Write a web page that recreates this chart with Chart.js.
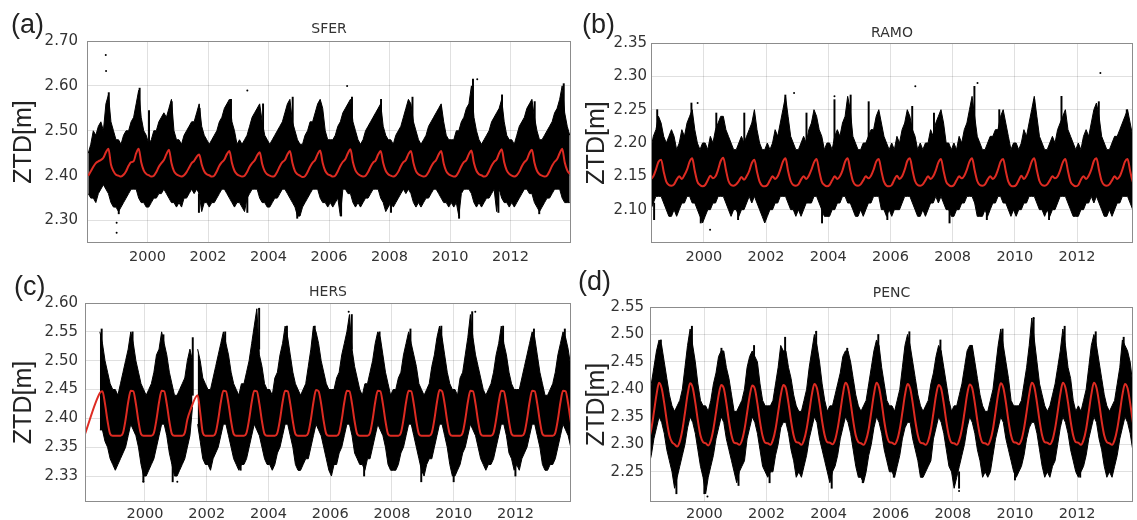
<!DOCTYPE html>
<html>
<head>
<style>
  body { margin: 0; background: #fff; width: 1137px; height: 520px; overflow: hidden; position: relative; }
  .panel { position: absolute; }
</style>
<script src="https://cdn.jsdelivr.net/npm/chart.js"></script>
<title>ZTD time series</title>
</head>
<body>
<div class="panel" style="left:0;top:0;width:575px;height:262px"><canvas id="chartA"></canvas></div>
<div class="panel" style="left:578px;top:0;width:559px;height:262px"><canvas id="chartB"></canvas></div>
<div class="panel" style="left:0;top:262px;width:575px;height:258px"><canvas id="chartC"></canvas></div>
<div class="panel" style="left:578px;top:262px;width:559px;height:258px"><canvas id="chartD"></canvas></div>
<script>
// one row per year, one value per month (Jan..Dec)
const years = [1998, 1999, 2000, 2001, 2002, 2003, 2004, 2005, 2006, 2007, 2008, 2009, 2010, 2011, 2012, 2013];
const xTicks = [2000, 2002, 2004, 2006, 2008, 2010, 2012];

// ---- (a) SFER ----
const sferTicks = [2.30, 2.40, 2.50, 2.60, 2.70];
const sferTickLabels = ['2.30', '2.40', '2.50', '2.60', '2.70'];
const sferFit = [
  [2.400, 2.410, 2.420, 2.428, 2.432, 2.435, 2.440, 2.452, 2.460, 2.425, 2.410, 2.402],
  [2.400, 2.398, 2.402, 2.410, 2.422, 2.430, 2.432, 2.450, 2.460, 2.430, 2.412, 2.404],
  [2.401, 2.398, 2.400, 2.408, 2.420, 2.428, 2.435, 2.448, 2.458, 2.428, 2.410, 2.403],
  [2.400, 2.398, 2.401, 2.408, 2.418, 2.428, 2.433, 2.442, 2.447, 2.425, 2.410, 2.403],
  [2.401, 2.398, 2.400, 2.410, 2.422, 2.430, 2.436, 2.448, 2.455, 2.428, 2.411, 2.403],
  [2.400, 2.398, 2.400, 2.408, 2.420, 2.428, 2.434, 2.445, 2.452, 2.426, 2.410, 2.403],
  [2.400, 2.398, 2.400, 2.409, 2.421, 2.430, 2.435, 2.447, 2.455, 2.428, 2.410, 2.403],
  [2.400, 2.397, 2.399, 2.408, 2.420, 2.429, 2.435, 2.448, 2.456, 2.428, 2.411, 2.403],
  [2.401, 2.398, 2.400, 2.410, 2.422, 2.431, 2.437, 2.450, 2.459, 2.430, 2.412, 2.404],
  [2.400, 2.398, 2.400, 2.408, 2.420, 2.429, 2.434, 2.447, 2.455, 2.428, 2.411, 2.403],
  [2.400, 2.398, 2.401, 2.409, 2.421, 2.430, 2.435, 2.448, 2.455, 2.428, 2.410, 2.403],
  [2.400, 2.398, 2.400, 2.408, 2.420, 2.429, 2.435, 2.447, 2.455, 2.427, 2.410, 2.403],
  [2.400, 2.398, 2.400, 2.409, 2.421, 2.430, 2.435, 2.448, 2.456, 2.428, 2.411, 2.403],
  [2.401, 2.398, 2.400, 2.410, 2.422, 2.431, 2.436, 2.450, 2.459, 2.430, 2.412, 2.404],
  [2.400, 2.398, 2.401, 2.409, 2.421, 2.430, 2.436, 2.450, 2.458, 2.429, 2.411, 2.403],
  [2.400, 2.398, 2.400, 2.410, 2.422, 2.431, 2.437, 2.450, 2.460, 2.430, 2.412, 2.404]
];
const sferHigh = [
  [2.45, 2.47, 2.50, 2.49, 2.51, 2.52, 2.50, 2.56, 2.58, 2.52, 2.50, 2.48],
  [2.48, 2.47, 2.49, 2.50, 2.50, 2.52, 2.53, 2.56, 2.59, 2.53, 2.50, 2.49],
  [2.47, 2.48, 2.50, 2.50, 2.52, 2.53, 2.54, 2.53, 2.55, 2.57, 2.50, 2.48],
  [2.48, 2.47, 2.49, 2.50, 2.51, 2.52, 2.52, 2.54, 2.56, 2.51, 2.49, 2.48],
  [2.47, 2.48, 2.49, 2.50, 2.52, 2.53, 2.55, 2.56, 2.57, 2.52, 2.50, 2.47],
  [2.48, 2.47, 2.48, 2.49, 2.51, 2.53, 2.54, 2.55, 2.56, 2.52, 2.49, 2.48],
  [2.47, 2.48, 2.49, 2.50, 2.51, 2.52, 2.54, 2.56, 2.57, 2.52, 2.50, 2.48],
  [2.47, 2.47, 2.49, 2.50, 2.52, 2.52, 2.54, 2.56, 2.57, 2.55, 2.50, 2.48],
  [2.48, 2.48, 2.49, 2.51, 2.52, 2.54, 2.55, 2.56, 2.57, 2.52, 2.50, 2.48],
  [2.47, 2.48, 2.50, 2.51, 2.52, 2.53, 2.54, 2.55, 2.56, 2.51, 2.49, 2.48],
  [2.48, 2.47, 2.49, 2.50, 2.51, 2.53, 2.55, 2.57, 2.56, 2.52, 2.50, 2.48],
  [2.47, 2.48, 2.49, 2.51, 2.52, 2.53, 2.54, 2.55, 2.56, 2.52, 2.49, 2.48],
  [2.48, 2.48, 2.50, 2.50, 2.52, 2.53, 2.55, 2.56, 2.60, 2.53, 2.50, 2.48],
  [2.47, 2.48, 2.49, 2.50, 2.52, 2.53, 2.54, 2.55, 2.57, 2.52, 2.49, 2.48],
  [2.48, 2.47, 2.49, 2.51, 2.52, 2.53, 2.55, 2.56, 2.57, 2.53, 2.50, 2.48],
  [2.48, 2.49, 2.50, 2.51, 2.52, 2.54, 2.55, 2.57, 2.60, 2.54, 2.51, 2.49]
];
const sferLow = [
  [2.36, 2.35, 2.35, 2.34, 2.36, 2.37, 2.38, 2.37, 2.36, 2.34, 2.33, 2.33],
  [2.32, 2.33, 2.34, 2.35, 2.36, 2.37, 2.37, 2.37, 2.35, 2.34, 2.34, 2.33],
  [2.33, 2.34, 2.35, 2.35, 2.36, 2.36, 2.37, 2.36, 2.35, 2.34, 2.34, 2.33],
  [2.34, 2.33, 2.35, 2.35, 2.36, 2.37, 2.36, 2.37, 2.36, 2.32, 2.34, 2.34],
  [2.33, 2.34, 2.34, 2.35, 2.36, 2.37, 2.37, 2.36, 2.35, 2.34, 2.33, 2.34],
  [2.34, 2.33, 2.32, 2.35, 2.36, 2.37, 2.37, 2.37, 2.35, 2.34, 2.34, 2.33],
  [2.33, 2.34, 2.35, 2.35, 2.36, 2.37, 2.37, 2.36, 2.35, 2.34, 2.33, 2.31],
  [2.31, 2.33, 2.34, 2.35, 2.36, 2.37, 2.37, 2.37, 2.35, 2.34, 2.34, 2.33],
  [2.34, 2.33, 2.34, 2.35, 2.31, 2.37, 2.37, 2.36, 2.36, 2.34, 2.33, 2.34],
  [2.33, 2.34, 2.35, 2.35, 2.36, 2.37, 2.37, 2.37, 2.35, 2.34, 2.32, 2.33],
  [2.34, 2.33, 2.34, 2.35, 2.36, 2.37, 2.36, 2.37, 2.36, 2.34, 2.33, 2.34],
  [2.33, 2.34, 2.35, 2.35, 2.36, 2.37, 2.37, 2.36, 2.35, 2.34, 2.34, 2.33],
  [2.34, 2.33, 2.34, 2.31, 2.36, 2.37, 2.37, 2.37, 2.36, 2.34, 2.33, 2.34],
  [2.33, 2.34, 2.35, 2.35, 2.36, 2.37, 2.32, 2.37, 2.35, 2.34, 2.34, 2.33],
  [2.34, 2.33, 2.34, 2.35, 2.36, 2.37, 2.37, 2.36, 2.36, 2.34, 2.33, 2.32],
  [2.33, 2.34, 2.35, 2.35, 2.36, 2.37, 2.37, 2.37, 2.35, 2.34, 2.34, 2.34]
];
// isolated spikes in the daily cloud: [year, from, to]
const sferSpikes = [
  [1998.72, 2.48, 2.585], [1999.05, 2.36, 2.315], [1999.74, 2.50, 2.595], [2000.05, 2.46, 2.545],
  [2000.80, 2.50, 2.565], [2001.70, 2.36, 2.318], [2001.72, 2.48, 2.55], [2002.76, 2.50, 2.57],
  [2003.30, 2.36, 2.318], [2003.82, 2.50, 2.56], [2004.80, 2.50, 2.575], [2004.95, 2.35, 2.305],
  [2005.72, 2.50, 2.56], [2006.40, 2.36, 2.31], [2006.76, 2.50, 2.575], [2007.72, 2.50, 2.57],
  [2008.05, 2.36, 2.318], [2008.76, 2.50, 2.575], [2009.70, 2.50, 2.555], [2010.30, 2.36, 2.305],
  [2010.76, 2.50, 2.615], [2011.60, 2.36, 2.318], [2011.72, 2.50, 2.58], [2012.80, 2.50, 2.565],
  [2012.95, 2.36, 2.315], [2013.76, 2.50, 2.605]
];
const sferOutliers = [[1998.62, 2.669], [1998.63, 2.633], [1998.98, 2.295], [1998.98, 2.273], [2003.3, 2.59], [2006.6, 2.60], [2010.9, 2.615]];

// ---- (b) RAMO ----
const ramoTicks = [2.10, 2.15, 2.20, 2.25, 2.30, 2.35];
const ramoTickLabels = ['2.10', '2.15', '2.20', '2.25', '2.30', '2.35'];
const ramoFit = [
  [2.140, 2.145, 2.150, 2.146, 2.150, 2.160, 2.172, 2.175, 2.157, 2.142, 2.137, 2.136],
  [2.138, 2.145, 2.150, 2.146, 2.152, 2.160, 2.172, 2.177, 2.158, 2.142, 2.137, 2.135],
  [2.137, 2.144, 2.151, 2.147, 2.150, 2.160, 2.173, 2.178, 2.160, 2.143, 2.137, 2.136],
  [2.138, 2.143, 2.149, 2.145, 2.150, 2.158, 2.170, 2.175, 2.157, 2.142, 2.136, 2.135],
  [2.137, 2.144, 2.150, 2.146, 2.150, 2.160, 2.172, 2.177, 2.158, 2.143, 2.137, 2.136],
  [2.138, 2.145, 2.150, 2.146, 2.151, 2.160, 2.171, 2.176, 2.158, 2.142, 2.137, 2.135],
  [2.137, 2.144, 2.150, 2.146, 2.150, 2.159, 2.172, 2.177, 2.159, 2.143, 2.137, 2.136],
  [2.138, 2.144, 2.150, 2.147, 2.151, 2.160, 2.172, 2.176, 2.158, 2.142, 2.136, 2.135],
  [2.137, 2.145, 2.151, 2.146, 2.150, 2.160, 2.173, 2.177, 2.159, 2.143, 2.137, 2.136],
  [2.138, 2.144, 2.150, 2.146, 2.150, 2.159, 2.171, 2.176, 2.158, 2.142, 2.137, 2.135],
  [2.137, 2.144, 2.150, 2.147, 2.151, 2.160, 2.172, 2.177, 2.159, 2.143, 2.137, 2.136],
  [2.138, 2.145, 2.150, 2.146, 2.150, 2.160, 2.172, 2.176, 2.158, 2.142, 2.136, 2.135],
  [2.137, 2.144, 2.151, 2.146, 2.151, 2.160, 2.172, 2.177, 2.159, 2.143, 2.137, 2.136],
  [2.138, 2.144, 2.150, 2.147, 2.150, 2.159, 2.171, 2.176, 2.158, 2.142, 2.137, 2.135],
  [2.137, 2.145, 2.150, 2.146, 2.151, 2.160, 2.173, 2.177, 2.159, 2.143, 2.137, 2.136],
  [2.138, 2.144, 2.150, 2.146, 2.150, 2.160, 2.172, 2.176, 2.158, 2.142, 2.137, 2.136]
];
const ramoHigh = [
  [2.24, 2.22, 2.20, 2.19, 2.21, 2.22, 2.24, 2.23, 2.21, 2.20, 2.21, 2.22],
  [2.21, 2.19, 2.20, 2.22, 2.21, 2.23, 2.24, 2.25, 2.22, 2.20, 2.19, 2.20],
  [2.20, 2.19, 2.21, 2.20, 2.22, 2.23, 2.24, 2.24, 2.22, 2.21, 2.20, 2.19],
  [2.19, 2.20, 2.21, 2.20, 2.21, 2.22, 2.23, 2.25, 2.22, 2.20, 2.19, 2.19],
  [2.20, 2.19, 2.20, 2.22, 2.21, 2.23, 2.25, 2.27, 2.24, 2.21, 2.20, 2.19],
  [2.19, 2.20, 2.21, 2.20, 2.22, 2.23, 2.25, 2.24, 2.22, 2.21, 2.19, 2.20],
  [2.20, 2.19, 2.21, 2.22, 2.21, 2.23, 2.24, 2.27, 2.25, 2.21, 2.20, 2.19],
  [2.19, 2.20, 2.20, 2.21, 2.22, 2.22, 2.24, 2.25, 2.23, 2.21, 2.20, 2.19],
  [2.20, 2.19, 2.21, 2.20, 2.22, 2.23, 2.25, 2.24, 2.22, 2.21, 2.19, 2.20],
  [2.19, 2.20, 2.20, 2.22, 2.21, 2.23, 2.24, 2.25, 2.23, 2.20, 2.20, 2.19],
  [2.20, 2.19, 2.21, 2.20, 2.22, 2.23, 2.25, 2.27, 2.24, 2.21, 2.20, 2.19],
  [2.19, 2.20, 2.21, 2.21, 2.22, 2.22, 2.24, 2.25, 2.23, 2.21, 2.19, 2.20],
  [2.20, 2.19, 2.20, 2.22, 2.21, 2.23, 2.25, 2.27, 2.24, 2.21, 2.20, 2.19],
  [2.19, 2.20, 2.21, 2.20, 2.22, 2.23, 2.24, 2.25, 2.22, 2.21, 2.20, 2.19],
  [2.20, 2.19, 2.21, 2.22, 2.21, 2.23, 2.25, 2.26, 2.24, 2.21, 2.20, 2.19],
  [2.19, 2.20, 2.21, 2.21, 2.22, 2.23, 2.24, 2.25, 2.23, 2.21, 2.20, 2.20]
];
const ramoLow = [
  [2.09, 2.09, 2.09, 2.10, 2.11, 2.12, 2.12, 2.12, 2.11, 2.10, 2.09, 2.09],
  [2.10, 2.09, 2.10, 2.11, 2.11, 2.12, 2.12, 2.11, 2.11, 2.10, 2.09, 2.08],
  [2.09, 2.10, 2.10, 2.11, 2.11, 2.12, 2.12, 2.12, 2.11, 2.10, 2.09, 2.10],
  [2.10, 2.09, 2.10, 2.10, 2.11, 2.12, 2.11, 2.12, 2.11, 2.10, 2.09, 2.08],
  [2.09, 2.10, 2.10, 2.11, 2.11, 2.12, 2.12, 2.12, 2.11, 2.10, 2.10, 2.09],
  [2.10, 2.09, 2.10, 2.11, 2.11, 2.11, 2.12, 2.12, 2.11, 2.10, 2.09, 2.09],
  [2.09, 2.10, 2.10, 2.11, 2.11, 2.12, 2.12, 2.11, 2.11, 2.10, 2.09, 2.09],
  [2.10, 2.09, 2.10, 2.11, 2.11, 2.12, 2.12, 2.12, 2.10, 2.10, 2.09, 2.10],
  [2.09, 2.10, 2.10, 2.10, 2.11, 2.12, 2.12, 2.12, 2.11, 2.10, 2.09, 2.09],
  [2.10, 2.09, 2.10, 2.11, 2.11, 2.12, 2.11, 2.12, 2.11, 2.10, 2.10, 2.09],
  [2.09, 2.10, 2.10, 2.11, 2.11, 2.12, 2.12, 2.12, 2.11, 2.09, 2.09, 2.09],
  [2.10, 2.09, 2.10, 2.11, 2.11, 2.12, 2.12, 2.11, 2.11, 2.10, 2.09, 2.10],
  [2.09, 2.10, 2.10, 2.11, 2.11, 2.12, 2.12, 2.12, 2.11, 2.10, 2.10, 2.09],
  [2.10, 2.09, 2.10, 2.10, 2.11, 2.12, 2.12, 2.12, 2.11, 2.10, 2.09, 2.09],
  [2.09, 2.10, 2.10, 2.11, 2.11, 2.12, 2.11, 2.12, 2.11, 2.10, 2.09, 2.09],
  [2.10, 2.09, 2.10, 2.11, 2.11, 2.12, 2.12, 2.12, 2.11, 2.10, 2.09, 2.10]
];
const ramoSpikes = [
  [1998.50, 2.20, 2.25], [1998.40, 2.11, 2.085], [1999.60, 2.21, 2.26], [1999.90, 2.11, 2.08],
  [2000.40, 2.20, 2.245], [2001.10, 2.11, 2.085], [2001.30, 2.20, 2.245], [2002.62, 2.22, 2.272],
  [2003.30, 2.20, 2.245], [2003.80, 2.11, 2.08], [2004.20, 2.20, 2.265], [2004.72, 2.22, 2.272],
  [2005.30, 2.20, 2.262], [2005.90, 2.11, 2.085], [2006.70, 2.21, 2.255], [2007.40, 2.20, 2.245],
  [2007.90, 2.11, 2.08], [2008.70, 2.22, 2.285], [2009.10, 2.11, 2.085], [2009.50, 2.20, 2.25],
  [2010.62, 2.22, 2.265], [2011.10, 2.11, 2.085], [2011.50, 2.21, 2.27], [2012.70, 2.22, 2.262],
  [2013.60, 2.20, 2.25]
];
const ramoOutliers = [[2012.75, 2.305], [2008.8, 2.29], [2006.8, 2.285], [2004.2, 2.27], [2002.9, 2.275], [1999.8, 2.26], [2000.2, 2.07]];

// ---- (c) HERS ----
const hersTicks = [2.30, 2.35, 2.40, 2.45, 2.50, 2.55, 2.60];
const hersTickLabels = ['2.33', '2.35', '2.40', '2.45', '2.50', '2.55', '2.60'];
const hersFit = [
  [2.370, null, null, null, null, null, 2.444, 2.447, 2.425, 2.395, 2.373, 2.370],
  [2.370, 2.370, 2.370, 2.375, 2.398, 2.428, 2.448, 2.447, 2.425, 2.395, 2.373, 2.370],
  [2.370, 2.370, 2.370, 2.375, 2.398, 2.428, 2.448, 2.447, 2.425, 2.395, 2.373, 2.370],
  [2.370, 2.370, 2.370, 2.375, 2.398, 2.412, null, null, 2.440, 2.410, 2.375, 2.370],
  [2.370, 2.370, 2.370, 2.375, 2.398, 2.428, 2.448, 2.447, 2.425, 2.395, 2.373, 2.370],
  [2.370, 2.370, 2.370, 2.375, 2.398, 2.428, 2.448, 2.447, 2.425, 2.395, 2.373, 2.370],
  [2.370, 2.370, 2.370, 2.375, 2.398, 2.428, 2.448, 2.447, 2.425, 2.395, 2.373, 2.370],
  [2.370, 2.370, 2.370, 2.375, 2.398, 2.428, 2.449, 2.447, 2.425, 2.395, 2.373, 2.370],
  [2.370, 2.370, 2.370, 2.375, 2.398, 2.428, 2.448, 2.447, 2.425, 2.395, 2.373, 2.370],
  [2.370, 2.370, 2.370, 2.375, 2.398, 2.428, 2.448, 2.447, 2.425, 2.395, 2.373, 2.370],
  [2.370, 2.370, 2.370, 2.375, 2.398, 2.428, 2.448, 2.447, 2.425, 2.395, 2.373, 2.370],
  [2.370, 2.370, 2.370, 2.375, 2.398, 2.428, 2.449, 2.447, 2.425, 2.395, 2.373, 2.370],
  [2.370, 2.370, 2.370, 2.375, 2.398, 2.428, 2.448, 2.447, 2.425, 2.395, 2.373, 2.370],
  [2.370, 2.370, 2.370, 2.375, 2.398, 2.428, 2.448, 2.447, 2.425, 2.395, 2.373, 2.370],
  [2.370, 2.370, 2.370, 2.375, 2.398, 2.428, 2.448, 2.447, 2.425, 2.395, 2.373, 2.370],
  [2.370, 2.370, 2.370, 2.375, 2.398, 2.428, 2.448, 2.447, 2.425, 2.395, 2.373, 2.370]
];
const hersHigh = [
  [null, null, null, null, null, null, 2.55, 2.53, 2.50, 2.48, 2.46, 2.45],
  [2.45, 2.44, 2.46, 2.48, 2.50, 2.52, 2.55, 2.53, 2.50, 2.48, 2.46, 2.45],
  [2.44, 2.45, 2.46, 2.48, 2.51, 2.52, 2.55, 2.53, 2.51, 2.48, 2.46, 2.44],
  [2.44, 2.45, 2.46, 2.47, 2.50, 2.52, 2.50, null, 2.52, 2.50, 2.47, 2.46],
  [2.45, 2.45, 2.47, 2.49, 2.51, 2.53, 2.55, 2.53, 2.51, 2.48, 2.46, 2.45],
  [2.44, 2.46, 2.46, 2.48, 2.50, 2.53, 2.56, 2.59, 2.51, 2.49, 2.46, 2.45],
  [2.45, 2.44, 2.47, 2.48, 2.51, 2.53, 2.56, 2.54, 2.51, 2.48, 2.46, 2.45],
  [2.44, 2.45, 2.46, 2.49, 2.52, 2.56, 2.55, 2.53, 2.50, 2.48, 2.46, 2.45],
  [2.45, 2.45, 2.47, 2.48, 2.51, 2.53, 2.55, 2.58, 2.52, 2.49, 2.47, 2.45],
  [2.44, 2.46, 2.46, 2.48, 2.50, 2.53, 2.55, 2.54, 2.51, 2.48, 2.46, 2.44],
  [2.45, 2.45, 2.47, 2.48, 2.51, 2.53, 2.55, 2.53, 2.51, 2.49, 2.46, 2.45],
  [2.44, 2.45, 2.46, 2.49, 2.51, 2.54, 2.56, 2.54, 2.51, 2.48, 2.46, 2.45],
  [2.45, 2.44, 2.47, 2.48, 2.51, 2.54, 2.58, 2.54, 2.51, 2.49, 2.47, 2.45],
  [2.44, 2.45, 2.46, 2.48, 2.51, 2.53, 2.56, 2.53, 2.51, 2.48, 2.46, 2.45],
  [2.45, 2.45, 2.47, 2.49, 2.51, 2.53, 2.55, 2.54, 2.51, 2.48, 2.46, 2.44],
  [2.44, 2.45, 2.46, 2.48, 2.51, 2.53, 2.55, 2.54, 2.52, 2.49, 2.47, 2.46]
];
const hersLow = [
  [null, null, null, null, null, null, 2.38, 2.38, 2.36, 2.35, 2.33, 2.32],
  [2.31, 2.32, 2.33, 2.34, 2.35, 2.37, 2.39, 2.38, 2.37, 2.35, 2.32, 2.30],
  [2.30, 2.31, 2.32, 2.33, 2.35, 2.37, 2.39, 2.39, 2.37, 2.34, 2.32, 2.30],
  [2.30, 2.31, 2.32, 2.33, 2.35, 2.37, 2.42, null, 2.39, 2.36, 2.33, 2.32],
  [2.32, 2.31, 2.33, 2.34, 2.35, 2.37, 2.39, 2.39, 2.37, 2.35, 2.33, 2.32],
  [2.31, 2.32, 2.32, 2.33, 2.35, 2.37, 2.39, 2.38, 2.37, 2.35, 2.33, 2.32],
  [2.32, 2.31, 2.32, 2.34, 2.35, 2.37, 2.39, 2.39, 2.37, 2.35, 2.32, 2.31],
  [2.31, 2.32, 2.33, 2.33, 2.35, 2.37, 2.39, 2.38, 2.37, 2.35, 2.33, 2.31],
  [2.30, 2.32, 2.32, 2.34, 2.35, 2.37, 2.39, 2.39, 2.37, 2.34, 2.33, 2.32],
  [2.32, 2.31, 2.33, 2.33, 2.35, 2.37, 2.39, 2.38, 2.37, 2.35, 2.32, 2.31],
  [2.31, 2.31, 2.32, 2.34, 2.35, 2.37, 2.39, 2.39, 2.37, 2.35, 2.33, 2.31],
  [2.30, 2.32, 2.33, 2.33, 2.35, 2.37, 2.39, 2.39, 2.37, 2.35, 2.32, 2.30],
  [2.30, 2.31, 2.32, 2.34, 2.35, 2.37, 2.39, 2.38, 2.37, 2.35, 2.33, 2.32],
  [2.31, 2.32, 2.32, 2.33, 2.35, 2.37, 2.39, 2.39, 2.37, 2.34, 2.33, 2.31],
  [2.32, 2.31, 2.33, 2.34, 2.35, 2.37, 2.39, 2.39, 2.37, 2.35, 2.32, 2.31],
  [2.31, 2.32, 2.32, 2.33, 2.35, 2.37, 2.39, 2.38, 2.37, 2.35, 2.33, 2.32]
];
const hersSpikes = [
  [1998.60, 2.50, 2.555], [1999.60, 2.50, 2.55], [1999.95, 2.33, 2.29], [2000.60, 2.50, 2.545],
  [2000.90, 2.33, 2.29], [2001.55, 2.44, 2.54], [2002.60, 2.50, 2.55], [2003.10, 2.33, 2.31],
  [2003.70, 2.52, 2.59], [2004.60, 2.52, 2.56], [2005.00, 2.33, 2.31], [2005.50, 2.52, 2.56],
  [2006.70, 2.52, 2.58], [2007.10, 2.33, 2.30], [2007.60, 2.50, 2.55], [2008.60, 2.50, 2.555],
  [2008.95, 2.33, 2.29], [2009.60, 2.52, 2.56], [2010.00, 2.33, 2.29], [2010.60, 2.52, 2.585],
  [2011.60, 2.52, 2.56], [2012.00, 2.33, 2.30], [2012.60, 2.50, 2.555], [2013.60, 2.50, 2.555]
];
const hersOutliers = [[2003.7, 2.59], [2006.6, 2.585], [2010.7, 2.585], [1999.95, 2.29], [2001.05, 2.29]];

// ---- (d) PENC ----
const pencTicks = [2.25, 2.30, 2.35, 2.40, 2.45, 2.50, 2.55];
const pencTickLabels = ['2.25', '2.30', '2.35', '2.40', '2.45', '2.50', '2.55'];
const pencFit = [
  [2.305, 2.300, 2.308, 2.328, 2.358, 2.390, 2.412, 2.402, 2.375, 2.342, 2.316, 2.304],
  [2.300, 2.296, 2.305, 2.326, 2.357, 2.390, 2.411, 2.403, 2.376, 2.343, 2.316, 2.304],
  [2.302, 2.298, 2.307, 2.328, 2.358, 2.389, 2.408, 2.402, 2.375, 2.342, 2.316, 2.303],
  [2.302, 2.299, 2.307, 2.327, 2.357, 2.388, 2.407, 2.401, 2.374, 2.341, 2.315, 2.303],
  [2.302, 2.299, 2.308, 2.328, 2.358, 2.389, 2.408, 2.402, 2.375, 2.342, 2.316, 2.304],
  [2.303, 2.299, 2.308, 2.328, 2.358, 2.390, 2.410, 2.402, 2.375, 2.342, 2.316, 2.304],
  [2.303, 2.300, 2.308, 2.329, 2.359, 2.391, 2.412, 2.404, 2.376, 2.343, 2.316, 2.304],
  [2.302, 2.299, 2.308, 2.328, 2.359, 2.391, 2.412, 2.403, 2.376, 2.342, 2.316, 2.304],
  [2.303, 2.300, 2.308, 2.328, 2.358, 2.390, 2.410, 2.402, 2.375, 2.342, 2.316, 2.303],
  [2.302, 2.299, 2.307, 2.327, 2.357, 2.389, 2.408, 2.401, 2.374, 2.341, 2.315, 2.303],
  [2.302, 2.299, 2.308, 2.328, 2.358, 2.390, 2.409, 2.402, 2.375, 2.342, 2.316, 2.303],
  [2.302, 2.299, 2.308, 2.328, 2.359, 2.391, 2.411, 2.403, 2.376, 2.342, 2.316, 2.304],
  [2.303, 2.300, 2.308, 2.329, 2.359, 2.391, 2.412, 2.404, 2.376, 2.343, 2.316, 2.304],
  [2.303, 2.300, 2.308, 2.329, 2.359, 2.391, 2.412, 2.403, 2.376, 2.342, 2.316, 2.304],
  [2.303, 2.299, 2.308, 2.328, 2.359, 2.391, 2.412, 2.403, 2.376, 2.342, 2.316, 2.304],
  [2.302, 2.299, 2.308, 2.328, 2.358, 2.390, 2.410, 2.402, 2.375, 2.342, 2.316, 2.304]
];
const pencHigh = [
  [2.37, 2.36, 2.38, 2.41, 2.44, 2.47, 2.49, 2.48, 2.45, 2.42, 2.39, 2.37],
  [2.36, 2.37, 2.38, 2.40, 2.44, 2.48, 2.51, 2.48, 2.45, 2.41, 2.38, 2.37],
  [2.37, 2.36, 2.38, 2.41, 2.43, 2.46, 2.47, 2.47, 2.44, 2.42, 2.39, 2.36],
  [2.36, 2.37, 2.38, 2.40, 2.44, 2.46, 2.47, 2.46, 2.45, 2.41, 2.38, 2.37],
  [2.37, 2.37, 2.38, 2.41, 2.44, 2.48, 2.47, 2.47, 2.44, 2.42, 2.39, 2.37],
  [2.36, 2.36, 2.38, 2.40, 2.44, 2.47, 2.50, 2.48, 2.45, 2.41, 2.38, 2.36],
  [2.37, 2.37, 2.39, 2.41, 2.43, 2.46, 2.47, 2.47, 2.45, 2.42, 2.39, 2.37],
  [2.36, 2.37, 2.38, 2.41, 2.44, 2.47, 2.49, 2.48, 2.44, 2.41, 2.38, 2.37],
  [2.37, 2.36, 2.38, 2.40, 2.44, 2.48, 2.50, 2.48, 2.45, 2.42, 2.39, 2.37],
  [2.36, 2.37, 2.38, 2.41, 2.43, 2.46, 2.48, 2.47, 2.44, 2.41, 2.38, 2.36],
  [2.37, 2.37, 2.39, 2.41, 2.44, 2.47, 2.48, 2.48, 2.45, 2.42, 2.39, 2.37],
  [2.36, 2.36, 2.38, 2.40, 2.44, 2.48, 2.51, 2.48, 2.45, 2.42, 2.38, 2.37],
  [2.37, 2.37, 2.38, 2.41, 2.44, 2.48, 2.53, 2.49, 2.45, 2.41, 2.39, 2.37],
  [2.36, 2.37, 2.39, 2.41, 2.44, 2.47, 2.51, 2.48, 2.44, 2.42, 2.38, 2.36],
  [2.37, 2.36, 2.38, 2.40, 2.44, 2.48, 2.50, 2.48, 2.45, 2.42, 2.39, 2.37],
  [2.36, 2.37, 2.38, 2.41, 2.44, 2.49, 2.48, 2.47, 2.45, 2.41, 2.38, 2.37]
];
const pencLow = [
  [2.26, 2.25, 2.26, 2.28, 2.31, 2.33, 2.35, 2.34, 2.32, 2.29, 2.27, 2.25],
  [2.22, 2.24, 2.26, 2.28, 2.30, 2.33, 2.35, 2.34, 2.32, 2.29, 2.26, 2.24],
  [2.21, 2.24, 2.26, 2.28, 2.31, 2.33, 2.35, 2.34, 2.31, 2.29, 2.27, 2.25],
  [2.23, 2.25, 2.26, 2.27, 2.31, 2.33, 2.35, 2.34, 2.32, 2.29, 2.26, 2.25],
  [2.24, 2.25, 2.25, 2.28, 2.30, 2.33, 2.34, 2.34, 2.32, 2.29, 2.27, 2.24],
  [2.25, 2.24, 2.26, 2.28, 2.31, 2.33, 2.35, 2.34, 2.31, 2.29, 2.27, 2.25],
  [2.23, 2.25, 2.26, 2.28, 2.31, 2.33, 2.35, 2.34, 2.32, 2.29, 2.26, 2.24],
  [2.24, 2.23, 2.25, 2.28, 2.30, 2.33, 2.35, 2.34, 2.32, 2.29, 2.27, 2.25],
  [2.25, 2.24, 2.26, 2.28, 2.31, 2.33, 2.34, 2.34, 2.31, 2.29, 2.27, 2.24],
  [2.24, 2.25, 2.26, 2.27, 2.31, 2.33, 2.35, 2.34, 2.32, 2.29, 2.26, 2.25],
  [2.22, 2.24, 2.26, 2.28, 2.30, 2.33, 2.35, 2.34, 2.32, 2.29, 2.27, 2.24],
  [2.25, 2.24, 2.25, 2.28, 2.31, 2.33, 2.35, 2.34, 2.31, 2.29, 2.27, 2.25],
  [2.24, 2.25, 2.26, 2.28, 2.31, 2.33, 2.34, 2.34, 2.32, 2.29, 2.26, 2.24],
  [2.25, 2.24, 2.26, 2.27, 2.30, 2.33, 2.35, 2.34, 2.32, 2.29, 2.27, 2.25],
  [2.24, 2.25, 2.26, 2.28, 2.31, 2.33, 2.35, 2.34, 2.31, 2.29, 2.26, 2.24],
  [2.25, 2.24, 2.26, 2.28, 2.31, 2.33, 2.35, 2.34, 2.32, 2.29, 2.27, 2.25]
];
const pencSpikes = [
  [1998.60, 2.45, 2.49], [1999.10, 2.25, 2.21], [1999.60, 2.46, 2.515], [2000.00, 2.25, 2.21],
  [2000.55, 2.44, 2.475], [2001.10, 2.25, 2.225], [2001.60, 2.44, 2.48], [2002.10, 2.26, 2.23],
  [2002.60, 2.45, 2.495], [2003.60, 2.46, 2.505], [2004.10, 2.25, 2.22], [2004.60, 2.44, 2.475],
  [2005.10, 2.26, 2.23], [2005.60, 2.45, 2.50], [2006.10, 2.26, 2.24], [2006.60, 2.46, 2.505],
  [2007.60, 2.45, 2.49], [2008.20, 2.25, 2.22], [2008.60, 2.44, 2.48], [2009.60, 2.46, 2.51],
  [2010.00, 2.26, 2.235], [2010.60, 2.47, 2.53], [2011.60, 2.46, 2.515], [2012.10, 2.26, 2.24],
  [2012.60, 2.46, 2.505], [2013.50, 2.45, 2.495]
];
const pencOutliers = [[2010.6, 2.53], [2003.6, 2.505], [2008.2, 2.215], [2000.1, 2.205]];

const fitColor = '#de2b22';
const gridColor = 'rgba(0, 0, 0, 0.12)';
const tickFont = { family: 'DejaVu Sans', size: 15 };

function monthPoints(rows) {
  const pts = [];
  years.forEach((yr, i) => {
    rows[i].forEach((v, m) => pts.push({ x: yr + (m + 0.5) / 12, y: v }));
  });
  return pts;
}

// frame around the plot, panel letter and station name
const panelDecor = {
  id: 'panelDecor',
  afterDraw(chart, args, opts) {
    const { ctx, chartArea: a } = chart;
    ctx.save();
    ctx.strokeStyle = '#8c8c8c';
    ctx.lineWidth = 1;
    ctx.strokeRect(a.left + 0.5, a.top + 0.5, a.right - a.left - 1, a.bottom - a.top - 1);
    ctx.fillStyle = '#222';
    ctx.textBaseline = 'middle';
    ctx.font = '27px "Liberation Sans"';
    ctx.textAlign = 'left';
    ctx.fillText(opts.letter, opts.letterX, opts.letterY);
    ctx.font = '14px "DejaVu Sans"';
    ctx.fillStyle = '#333';
    ctx.textAlign = 'center';
    ctx.fillText(opts.station, (a.left + a.right) / 2, opts.stationY);
    ctx.restore();
  }
};

function drawPanel(p) {
  const g = p.box;
  new Chart(document.getElementById(p.id), {
    type: 'line',
    data: {
      datasets: [
        {
          data: monthPoints(p.fit), borderColor: fitColor, borderWidth: 2,
          pointRadius: 0, spanGaps: true, cubicInterpolationMode: 'monotone', order: 0
        },
        {
          type: 'scatter', data: p.outliers.map(([x, y]) => ({ x, y })), backgroundColor: '#000',
          borderWidth: 0, pointRadius: 1, order: 1
        },
        {
          type: 'bar', data: p.spikes.map(([x, a, b]) => ({ x, y: [a, b] })), backgroundColor: '#000',
          borderWidth: 0, barThickness: 1.3, grouped: false, order: 1
        },
        // lower and upper edge of the daily cloud, filled in between
        {
          data: monthPoints(p.low), borderColor: '#000', borderWidth: 1, pointRadius: 0,
          spanGaps: false, fill: false, order: 2
        },
        {
          data: monthPoints(p.high), borderColor: '#000', borderWidth: 1, pointRadius: 0,
          spanGaps: false, fill: '-1', backgroundColor: '#000', order: 2
        }
      ]
    },
    options: {
      responsive: true,
      maintainAspectRatio: false,
      animation: false,
      events: [],
      layout: { padding: { left: 0, top: g.top, right: g.w - g.right, bottom: 0 } },
      plugins: {
        legend: { display: false },
        tooltip: { enabled: false },
        panelDecor: { letter: p.letter, letterX: p.letterX, letterY: p.letterY, station: p.station, stationY: p.stationY }
      },
      scales: {
        x: {
          type: 'linear', min: p.xMin, max: p.xMax, offset: false,
          afterBuildTicks: s => { s.ticks = xTicks.map(v => ({ value: v })); },
          afterFit: s => { s.height = g.h - g.bottom; },
          grid: { color: gridColor, drawTicks: false, offset: false },
          border: { display: false },
          ticks: { font: { family: 'DejaVu Sans', size: 14.5 }, color: '#333', padding: p.xPad, maxRotation: 0, callback: v => String(v) }
        },
        y: {
          min: p.yMin, max: p.yMax,
          afterBuildTicks: s => { s.ticks = p.yTicks.map(v => ({ value: v })); },
          afterFit: s => { s.width = g.left; },
          grid: { color: gridColor, drawTicks: false },
          border: { display: false },
          ticks: { font: tickFont, color: '#333', padding: p.yPad, callback: (v, i) => p.yTickLabels[i] },
          title: {
            display: true, text: 'ZTD[m]', color: '#222',
            font: { family: 'Liberation Sans', size: 25 },
            padding: { top: p.titlePad, bottom: 0 }
          }
        }
      }
    },
    plugins: [panelDecor]
  });
}

drawPanel({
  id: 'chartA', letter: '(a)', station: 'SFER', letterX: 11, letterY: 26, stationY: 29,
  box: { w: 575, h: 262, left: 87, top: 41, right: 573, bottom: 243 },
  xMin: 1998.0, xMax: 2014.0, yMin: 2.25, yMax: 2.70, xPad: 6, yPad: 9, titlePad: 9,
  yTicks: sferTicks, yTickLabels: sferTickLabels,
  fit: sferFit, high: sferHigh, low: sferLow, spikes: sferSpikes, outliers: sferOutliers
});
drawPanel({
  id: 'chartB', letter: '(b)', station: 'RAMO', letterX: 4, letterY: 26, stationY: 33,
  box: { w: 559, h: 262, left: 73, top: 43, right: 559, bottom: 243 },
  xMin: 1998.3, xMax: 2013.8, yMin: 2.05, yMax: 2.35, xPad: 6, yPad: 4, titlePad: 4,
  yTicks: ramoTicks, yTickLabels: ramoTickLabels,
  fit: ramoFit, high: ramoHigh, low: ramoLow, spikes: ramoSpikes, outliers: ramoOutliers
});
drawPanel({
  id: 'chartC', letter: '(c)', station: 'HERS', letterX: 14, letterY: 26, stationY: 30,
  box: { w: 575, h: 258, left: 85, top: 41, right: 573, bottom: 240 },
  xMin: 1998.06, xMax: 2013.8, yMin: 2.255, yMax: 2.60, xPad: 4, yPad: 7, titlePad: 9,
  yTicks: hersTicks, yTickLabels: hersTickLabels,
  fit: hersFit, high: hersHigh, low: hersLow, spikes: hersSpikes, outliers: hersOutliers
});
drawPanel({
  id: 'chartD', letter: '(d)', station: 'PENC', letterX: 0, letterY: 21, stationY: 31,
  box: { w: 559, h: 258, left: 72, top: 45, right: 559, bottom: 240 },
  xMin: 1998.25, xMax: 2013.8, yMin: 2.195, yMax: 2.55, xPad: 4, yPad: 6, titlePad: 4,
  yTicks: pencTicks, yTickLabels: pencTickLabels,
  fit: pencFit, high: pencHigh, low: pencLow, spikes: pencSpikes, outliers: pencOutliers
});
</script>
</body>
</html>
